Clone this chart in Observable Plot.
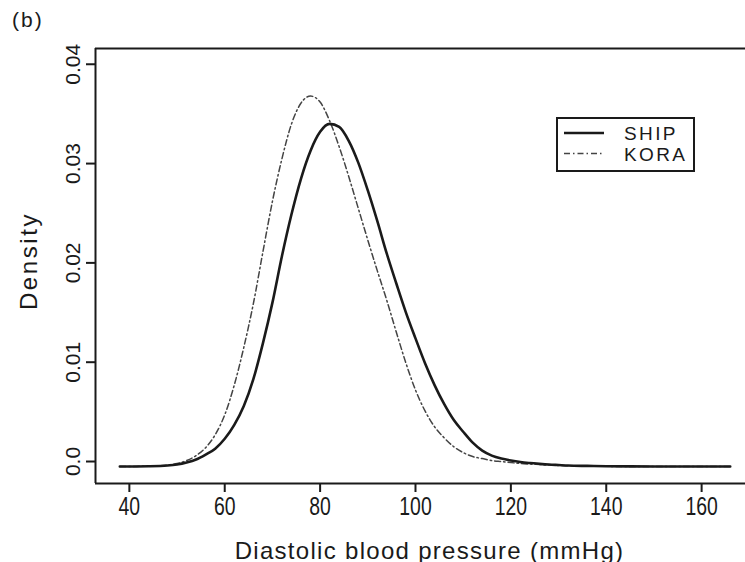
<!DOCTYPE html>
<html>
<head>
<meta charset="utf-8">
<script src="https://cdn.jsdelivr.net/npm/d3@7"></script>
<script src="https://cdn.jsdelivr.net/npm/@observablehq/plot@0.6"></script>
<style>
  html, body { margin: 0; padding: 0; background: #fff; }
  #wrap { position: relative; width: 745px; height: 562px; overflow: hidden; font-family: "Liberation Sans", Arial, sans-serif; color: #1a1a1a; }
  #panel { position: absolute; left: 12px; top: 8px; font-size: 21px; letter-spacing: 2px; }
  #legend { position: absolute; left: 556px; top: 117px; }
</style>
</head>
<body>
<div id="wrap">
  <div id="panel">(b)</div>
  <svg id="legend" width="140" height="56"></svg>
</div>
<script>
// Diastolic blood pressure grid (mmHg) and kernel density estimates per study
const pressure = [38,44,48,50,52,54,56,58,60,62,64,66,68,70,72,74,76,78,80,82,84,86,88,90,92,94,96,98,100,102,104,106,108,110,112,114,116,118,120,122,124,126,128,130,132,136,140,145,150,166];
const ship = [0,0.00003,0.0001,0.0002,0.0004,0.0007,0.0012,0.0018,0.0028,0.0042,0.0061,0.0088,0.0124,0.0165,0.0212,0.0254,0.0290,0.0318,0.0337,0.0345,0.0342,0.0328,0.0306,0.0278,0.0247,0.0214,0.0184,0.0155,0.0129,0.0104,0.0082,0.0063,0.0047,0.0035,0.0024,0.0016,0.0011,0.0008,0.0006,0.00045,0.00035,0.00027,0.0002,0.00015,0.0001,0.00006,0.00003,0.00001,0,0];
const kora = [0,0.00003,0.00015,0.0003,0.0006,0.0011,0.0019,0.0032,0.0052,0.0082,0.0120,0.0164,0.0216,0.0267,0.0310,0.0345,0.0366,0.0373,0.0367,0.0348,0.0322,0.0292,0.0260,0.0228,0.0197,0.0167,0.0135,0.0104,0.0077,0.0056,0.0040,0.0029,0.0020,0.0014,0.0010,0.0008,0.0006,0.0005,0.0004,0.0003,0.00025,0.0002,0.00015,0.0001,0.00008,0.00005,0.00002,0,0,0];

const xTicks = [40, 60, 80, 100, 120, 140, 160];
const yTicks = [0, 0.01, 0.02, 0.03, 0.04];
const studies = ["SHIP", "KORA"];

const xDomain = [32.9, 169.2];
const yDomain = [-0.00171, 0.04209];

const ink = "#1a1a1a";
const dashDot = "6,3,1.5,3";

const shipRows = pressure.map((p, i) => ({p, d: ship[i]}));
const koraRows = pressure.map((p, i) => ({p, d: kora[i]}));

const chart = Plot.plot({
  width: 745,
  height: 562,
  marginLeft: 95,
  marginRight: 0,
  marginTop: 48,
  marginBottom: 79,
  style: {fontFamily: "'Liberation Sans', Arial, sans-serif", color: ink, background: "transparent"},
  x: {domain: xDomain},
  y: {domain: yDomain},
  marks: [
    // open box: left, top and bottom edges
    Plot.ruleX([xDomain[0]], {stroke: ink, strokeWidth: 2}),
    Plot.ruleY([yDomain[0], yDomain[1]], {stroke: ink, strokeWidth: 2}),
    Plot.axisX({ticks: xTicks, tickSize: 9, tickPadding: 5, stroke: ink, strokeWidth: 2, fontSize: 25, label: null}),
    Plot.axisY({ticks: yTicks, tickSize: 9, tickPadding: 7, tickRotate: -90, stroke: ink, strokeWidth: 2, fontSize: 21,
      tickFormat: d => d === 0 ? "0.0" : String(d), dy: -5, label: null}),
    Plot.text(["Diastolic blood pressure (mmHg)"], {frameAnchor: "bottom", lineAnchor: "bottom", dy: 75, dx: 9,
      fontSize: 24, fill: ink, text: d => d}),
    Plot.text(["Density"], {frameAnchor: "left", textAnchor: "middle", lineAnchor: "bottom", rotate: -90, dx: -59, dy: -5,
      fontSize: 24, fill: ink, text: d => d}),
    Plot.line(koraRows, {x: "p", y: "d", curve: "monotone-x", stroke: "#444", strokeWidth: 1.5, strokeDasharray: dashDot}),
    Plot.line(shipRows, {x: "p", y: "d", curve: "monotone-x", stroke: ink, strokeWidth: 2.6})
  ]
});
chart.style.position = "absolute";
chart.style.left = "0";
chart.style.top = "0";
chart.querySelectorAll("text").forEach(t => {
  if (t.textContent === "Density") t.setAttribute("letter-spacing", "2.6");
  if (t.textContent.startsWith("Diastolic")) t.setAttribute("letter-spacing", "1.3");
});
// condensed tick numerals along the x axis
chart.querySelectorAll('g[aria-label="x-axis tick label"] text').forEach(t => {
  t.setAttribute("textLength", (10.8 * t.textContent.length).toFixed(1));
  t.setAttribute("lengthAdjust", "spacingAndGlyphs");
});
document.getElementById("wrap").prepend(chart);

// legend box
const lg = d3.select("#legend");
lg.append("rect").attr("x", 1).attr("y", 1).attr("width", 137).attr("height", 53)
  .attr("fill", "#fff").attr("stroke", ink).attr("stroke-width", 2);
const rows = lg.selectAll("g").data(studies).join("g")
  .attr("transform", (d, i) => `translate(0,${16 + i * 20.5})`);
rows.append("line").attr("x1", 8).attr("x2", 48).attr("y1", 0).attr("y2", 0)
  .attr("stroke", (d, i) => i ? "#444" : ink)
  .attr("stroke-width", (d, i) => i ? 1.5 : 2.4)
  .attr("stroke-dasharray", (d, i) => i ? dashDot : null);
rows.append("text").attr("x", 68).attr("y", 7).text(d => d)
  .attr("font-size", 19).attr("letter-spacing", 2.4).attr("fill", ink)
  .attr("font-family", "'Liberation Sans', Arial, sans-serif");
</script>
</body>
</html>
